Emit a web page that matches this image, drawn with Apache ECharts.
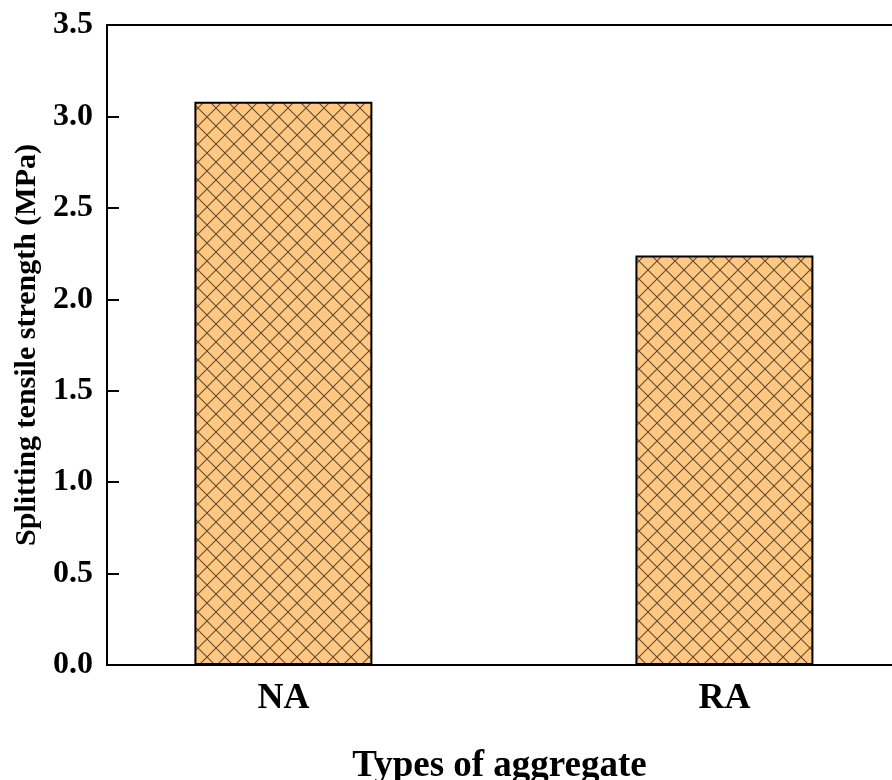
<!DOCTYPE html>
<html>
<head>
<meta charset="utf-8">
<script src="https://cdn.jsdelivr.net/npm/echarts@6/dist/echarts.min.js"></script>
<style>
  html, body { margin: 0; padding: 0; background: #fff; }
  #chart { width: 892px; height: 780px; }
</style>
</head>
<body>
<div id="chart"></div>
<script>
// Aggregate types, their positions on the x scale, and measured strengths
const categories = ['NA', 'RA'];
const positions = [1, 2];
const strength = [3.08, 2.24];
const yTicks = [0, 0.5, 1.0, 1.5, 2.0, 2.5, 3.0, 3.5];

// Cross-hatched orange fill tile
function hatchTile() {
  const s = 18;
  const c = document.createElement('canvas');
  c.width = s; c.height = s;
  const g = c.getContext('2d');
  g.fillStyle = '#FFC882';
  g.fillRect(0, 0, s, s);
  g.strokeStyle = 'rgba(60,45,25,0.8)';
  g.lineWidth = 1.1;
  g.beginPath();
  g.moveTo(0, 0); g.lineTo(s, s);
  g.moveTo(0, s); g.lineTo(s, 0);
  g.stroke();
  return c;
}

const font = '"Liberation Serif", "Times New Roman", serif';
const chart = echarts.init(document.getElementById('chart'), null, { renderer: 'canvas' });

chart.setOption({
  animation: false,
  backgroundColor: '#fff',
  grid: { left: 107, right: 0, top: 25, bottom: 115, containLabel: false, outerBoundsMode: 'none' },
  xAxis: [{
    type: 'value',
    min: 0.6,
    max: 2.38,
    position: 'bottom',
    splitLine: { show: false },
    axisLine: { show: true, onZero: false, lineStyle: { color: '#000', width: 2 } },
    axisTick: { show: false },
    axisLabel: {
      customValues: positions,
      formatter: v => categories[positions.indexOf(v)] || '',
      fontFamily: font, fontWeight: 'bold', fontSize: 36, color: '#000', margin: 16
    },
    name: 'Types of aggregate',
    nameLocation: 'middle',
    nameGap: 83,
    nameTextStyle: { fontFamily: font, fontWeight: 'bold', fontSize: 37, color: '#000' }
  }, {
    type: 'value',
    min: 0.6,
    max: 2.38,
    position: 'top',
    splitLine: { show: false },
    axisLine: { show: true, onZero: false, lineStyle: { color: '#000', width: 2 } },
    axisTick: { show: false },
    axisLabel: { show: false }
  }],
  yAxis: {
    type: 'value',
    min: 0,
    max: 3.5,
    interval: 0.5,
    splitLine: { show: false },
    axisLine: { show: true, lineStyle: { color: '#000', width: 2 } },
    axisTick: { show: true, inside: true, length: 12, lineStyle: { color: '#000', width: 2 } },
    axisLabel: {
      customValues: yTicks,
      formatter: v => v.toFixed(1),
      fontFamily: font, fontWeight: 'bold', fontSize: 32, color: '#000', margin: 14
    },
    name: 'Splitting tensile strength (MPa)',
    nameLocation: 'middle',
    nameGap: 64,
    nameTextStyle: { fontFamily: font, fontWeight: 'bold', fontSize: 30, color: '#000' }
  },
  series: [{
    type: 'bar',
    xAxisIndex: 0,
    barWidth: 178,
    data: positions.map((p, i) => [p, strength[i]]),
    itemStyle: {
      color: { image: hatchTile(), repeat: 'repeat' },
      borderColor: '#000',
      borderWidth: 2
    }
  }]
});
</script>
</body>
</html>
